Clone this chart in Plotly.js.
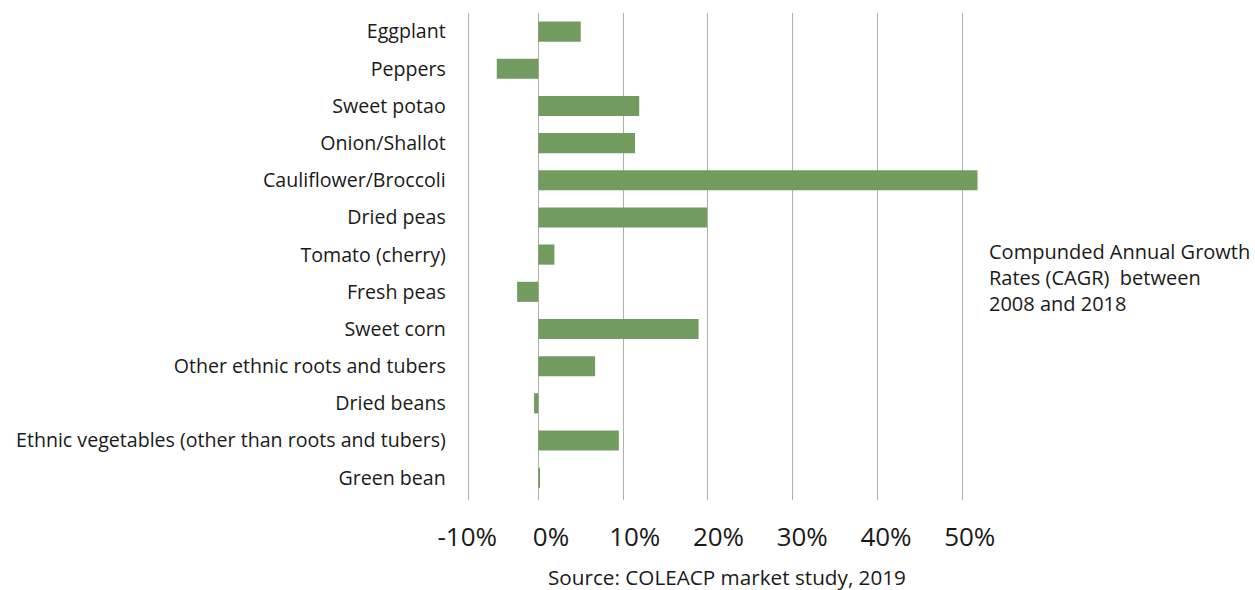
<!DOCTYPE html>
<html>
<head>
<meta charset="utf-8">
<script src="https://cdn.plot.ly/plotly-3.0.1.min.js"></script>
<style>html,body{margin:0;padding:0;background:#fff;}#chart{width:1255px;height:590px;}</style>
</head>
<body>
<div id="chart"></div>
<script>
const categories = [
  "Eggplant",
  "Peppers",
  "Sweet potao",
  "Onion/Shallot",
  "Cauliflower/Broccoli",
  "Dried peas",
  "Tomato (cherry)",
  "Fresh peas",
  "Sweet corn",
  "Other ethnic roots and tubers",
  "Dried beans",
  "Ethnic vegetables (other than roots and tubers)",
  "Green bean"
];
const cagr = [0.050, -0.049, 0.119, 0.114, 0.518, 0.199, 0.019, -0.025, 0.189, 0.067, -0.005, 0.095, 0.002];
const tickValues = [-0.1, 0, 0.1, 0.2, 0.3, 0.4, 0.5];
const tickLabels = ["-10%", "0%", "10%", "20%", "30%", "40%", "50%"];
const noteText = "Compunded Annual Growth<br>Rates (CAGR)  between<br>2008 and 2018";
const sourceText = "Source: COLEACP market study, 2019";

const FONT = "Open Sans, Noto Sans, sans-serif";

// pixel layout helpers
const ML = 440, MR = 255, MT = 13, MB = 90;
const plotW = 1255 - ML - MR;
const plotH = 590 - MT - MB;
const axisLeftPx = 468.7;

const data = [
  {
    type: "bar",
    orientation: "h",
    x: cagr,
    y: categories,
    marker: {color: "#729B60"},
    hoverinfo: "x+y",
    xaxis: "x",
    yaxis: "y"
  },
  {
    // invisible helper so the tick-label axis gets drawn
    type: "scatter",
    mode: "markers",
    x: [0],
    y: [0.5],
    marker: {opacity: 0, size: 1},
    hoverinfo: "skip",
    showlegend: false,
    xaxis: "x2",
    yaxis: "y2"
  }
];

const layout = {
  width: 1255,
  height: 590,
  paper_bgcolor: "#ffffff",
  plot_bgcolor: "rgba(0,0,0,0)",
  showlegend: false,
  bargap: 0.46,
  margin: {l: ML, r: MR, t: MT, b: MB},
  font: {family: FONT, color: "#1a1a1a"},
  xaxis: {
    domain: [(axisLeftPx - ML) / plotW, 1],
    anchor: "y",
    range: [-0.0821, 0.5445],
    tickvals: tickValues,
    showticklabels: false,
    showgrid: true,
    gridcolor: "#afafaf",
    gridwidth: 1,
    zeroline: true,
    zerolinecolor: "#afafaf",
    zerolinewidth: 1,
    showline: false,
    ticks: "",
    fixedrange: true
  },
  xaxis2: {
    domain: [0, 1],
    anchor: "y2",
    side: "bottom",
    range: [-0.13254, 0.53612],
    tickvals: tickValues,
    ticktext: tickLabels,
    showgrid: false,
    zeroline: false,
    showline: false,
    ticks: "",
    ticklabelstandoff: 19,
    tickfont: {family: FONT, size: 26, color: "#1a1a1a"},
    fixedrange: true
  },
  yaxis: {
    anchor: "x",
    type: "category",
    categoryorder: "array",
    categoryarray: categories,
    range: [12.6, -0.5],
    autorange: false,
    showgrid: false,
    zeroline: false,
    showline: true,
    linecolor: "#afafaf",
    linewidth: 1,
    ticks: "",
    ticklabelstandoff: 18,
    tickfont: {family: FONT, size: 19.6, color: "#1a1a1a"},
    fixedrange: true
  },
  yaxis2: {
    domain: [0, 1],
    anchor: "x2",
    range: [0, 1],
    visible: false,
    showgrid: false,
    zeroline: false,
    fixedrange: true
  },
  annotations: [
    {
      text: noteText,
      xref: "paper", yref: "paper",
      x: (987 - ML) / plotW,
      y: 1 - (236 - MT) / plotH,
      xanchor: "left", yanchor: "top",
      align: "left",
      showarrow: false,
      font: {family: FONT, size: 20, color: "#1a1a1a"}
    },
    {
      text: sourceText,
      xref: "paper", yref: "paper",
      x: (727 - ML) / plotW,
      y: 1 - (577 - MT) / plotH,
      xanchor: "center", yanchor: "middle",
      showarrow: false,
      font: {family: FONT, size: 20.7, color: "#1a1a1a"}
    }
  ]
};

Plotly.newPlot("chart", data, layout, {displayModeBar: false, staticPlot: true});
</script>
</body>
</html>
